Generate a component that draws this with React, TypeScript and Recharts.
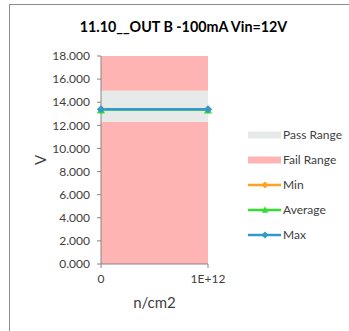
import React from "react";
import {
  ComposedChart,
  Area,
  Line,
  XAxis,
  YAxis,
  Label,
} from "recharts";

// --- Data ---

const FLUENCE = [0, 1e12];
const FAIL_LOW = [12.3, 12.3];
const PASS_BAND = [2.7, 2.7]; // 12.3 -> 15.0
const FAIL_HIGH = [3.0, 3.0]; // 15.0 -> 18.0
const MIN_V = [13.37, 13.37];
const AVG_V = [13.38, 13.38];
const MAX_V = [13.39, 13.39];
const Y_TICKS = [0, 2, 4, 6, 8, 10, 12, 14, 16, 18];

const TITLE = "11.10__OUT B -100mA Vin=12V";

// --- Style ---

const FONT = "Lato, 'Open Sans', sans-serif";
const TEXT = "#404040";
const AXIS = "#868686";
const PASS = "#e6ebea";
const FAIL = "#ffb4b4";
const MIN_C = "#ffa21f";
const AVG_C = "#33dd33";
const MAX_C = "#3399cc";

const data = FLUENCE.map((x, i) => ({
  x,
  failLow: FAIL_LOW[i],
  pass: PASS_BAND[i],
  failHigh: FAIL_HIGH[i],
  min: MIN_V[i],
  avg: AVG_V[i],
  max: MAX_V[i],
}));

function Diamond({ cx, cy, fill, r = 4 }: any) {
  if (cx == null || cy == null) return null;
  return (
    <polygon
      points={`${cx},${cy - r} ${cx + r},${cy} ${cx},${cy + r} ${cx - r},${cy}`}
      fill={fill}
    />
  );
}

function Triangle({ cx, cy, fill, r = 4 }: any) {
  if (cx == null || cy == null) return null;
  return (
    <polygon
      points={`${cx},${cy - r} ${cx + r},${cy + r} ${cx - r},${cy + r}`}
      fill={fill}
    />
  );
}

const LEGEND_ITEMS = [
  { name: "Pass Range", kind: "rect", color: PASS },
  { name: "Fail Range", kind: "rect", color: FAIL },
  { name: "Min", kind: "diamond", color: MIN_C },
  { name: "Average", kind: "triangle", color: AVG_C },
  { name: "Max", kind: "diamond", color: MAX_C },
];

function ChartLegend() {
  return (
    <div style={{ fontFamily: FONT, fontSize: 12, color: TEXT }}>
      {LEGEND_ITEMS.map((it) => (
        <div key={it.name} style={{ display: "flex", alignItems: "center", height: 25 }}>
          <svg width={35} height={10} style={{ display: "block" }}>
            {it.kind === "rect" ? (
              <rect x={0} y={1.5} width={33} height={7} fill={it.color} />
            ) : (
              <>
                <line x1={0} y1={5} x2={33} y2={5} stroke={it.color} strokeWidth={2.5} />
                {it.kind === "diamond" ? (
                  <Diamond cx={17} cy={5} r={3.5} fill={it.color} />
                ) : (
                  <Triangle cx={17} cy={4.5} r={3.2} fill={it.color} />
                )}
              </>
            )}
          </svg>
          <span>{it.name}</span>
        </div>
      ))}
    </div>
  );
}

export default function App() {
  return (
    <div
      style={{
        position: "absolute",
        left: 0,
        top: 0,
        width: 349,
        height: 331,
        overflow: "hidden",
        background: "#fff",
      }}
    >
      <div
        style={{
          position: "absolute",
          left: 9,
          top: 4,
          width: 400,
          height: 400,
          borderTop: "1px solid #8c8c8c",
          borderLeft: "1px solid #8c8c8c",
        }}
      />
      <div
        style={{
          position: "absolute",
          left: 0,
          width: 367,
          top: 18,
          textAlign: "center",
          fontFamily: FONT,
          fontWeight: 700,
          fontSize: 14.3,
          color: "#000",
          whiteSpace: "nowrap",
        }}
      >
        {TITLE}
      </div>
      <ComposedChart
        width={349}
        height={331}
        data={data}
        margin={{ top: 56, right: 141, bottom: 17, left: 29 }}
        style={{ position: "absolute", left: 0, top: 0 }}
      >
        <XAxis
          dataKey="x"
          type="number"
          domain={[0, 1e12]}
          ticks={FLUENCE}
          tickFormatter={(v) => (v === 0 ? "0" : "1E+12")}
          tick={{ fill: TEXT, fontSize: 12, fontFamily: FONT }}
          axisLine={{ stroke: AXIS }}
          tickLine={{ stroke: AXIS }}
          tickSize={4}
          tickMargin={6}
          height={50}
        >
          <Label
            content={({ viewBox }: any) => (
              <text
                x={viewBox.x + viewBox.width / 2}
                y={viewBox.y + 44}
                textAnchor="middle"
                fontSize={15}
                fontFamily={FONT}
                fill={TEXT}
              >
                n/cm2
              </text>
            )}
          />
        </XAxis>
        <YAxis
          type="number"
          domain={[0, 18]}
          ticks={Y_TICKS}
          tickFormatter={(v) => v.toFixed(3)}
          tick={{ fill: TEXT, fontSize: 12, fontFamily: FONT }}
          axisLine={{ stroke: AXIS }}
          tickLine={{ stroke: AXIS }}
          tickSize={4}
          tickMargin={7}
          width={72}
        >
          <Label
            content={({ viewBox }: any) => {
              const cx = viewBox.x + 11;
              const cy = viewBox.y + viewBox.height / 2;
              return (
                <text
                  x={cx}
                  y={cy}
                  textAnchor="middle"
                  dominantBaseline="central"
                  transform={`rotate(-90 ${cx} ${cy})`}
                  fontSize={15}
                  fontFamily={FONT}
                  fill={TEXT}
                >
                  V
                </text>
              );
            }}
          />
        </YAxis>
        <Area
          dataKey="failLow"
          stackId="band"
          stroke="none"
          fill={FAIL}
          fillOpacity={1}
          isAnimationActive={false}
          activeDot={false}
        />
        <Area
          dataKey="pass"
          stackId="band"
          stroke="none"
          fill={PASS}
          fillOpacity={1}
          isAnimationActive={false}
          activeDot={false}
        />
        <Area
          dataKey="failHigh"
          stackId="band"
          stroke="none"
          fill={FAIL}
          fillOpacity={1}
          isAnimationActive={false}
          activeDot={false}
        />
        <Line
          dataKey="min"
          stroke={MIN_C}
          strokeWidth={2.5}
          dot={(p: any) => <Diamond key={`min-${p.index}`} {...p} fill={MIN_C} r={4} />}
          activeDot={false}
          isAnimationActive={false}
        />
        <Line
          dataKey="avg"
          stroke={AVG_C}
          strokeWidth={2.5}
          dot={(p: any) => <Triangle key={`avg-${p.index}`} {...p} fill={AVG_C} r={4} />}
          activeDot={false}
          isAnimationActive={false}
        />
        <Line
          dataKey="max"
          stroke={MAX_C}
          strokeWidth={2.5}
          dot={(p: any) => <Diamond key={`max-${p.index}`} {...p} fill={MAX_C} r={4} />}
          activeDot={false}
          isAnimationActive={false}
        />
      </ComposedChart>
      <div style={{ position: "absolute", left: 248, top: 122 }}>
        <ChartLegend />
      </div>
    </div>
  );
}
